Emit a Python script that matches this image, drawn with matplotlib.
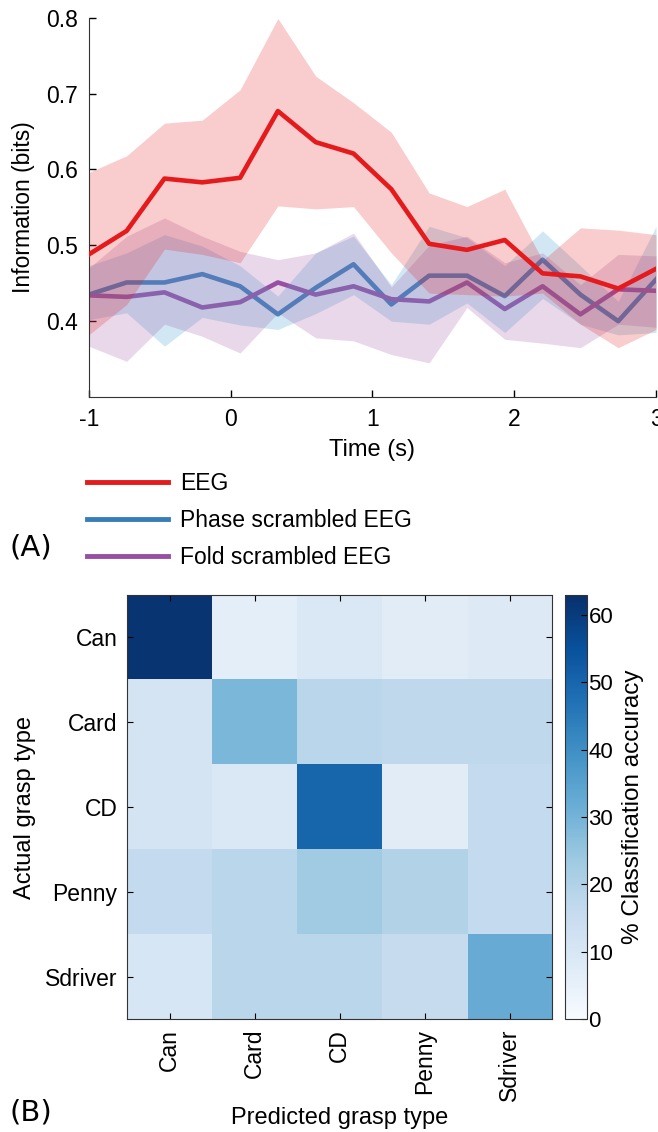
import numpy as np
import matplotlib
matplotlib.use("Agg")
import matplotlib.pyplot as plt
from matplotlib.lines import Line2D

plt.rcParams['font.family'] = ['Liberation Sans', 'DejaVu Sans']

# ---- panel A data ----
time = np.linspace(-1, 3, 16)

eeg = [0.488, 0.519, 0.588, 0.583, 0.589, 0.677, 0.636, 0.621,
       0.574, 0.502, 0.494, 0.507, 0.463, 0.459, 0.443, 0.469]
eeg_hi = [0.596, 0.618, 0.661, 0.665, 0.705, 0.799, 0.723, 0.688,
          0.649, 0.569, 0.551, 0.574, 0.480, 0.523, 0.520, 0.514]
eeg_lo = [0.382, 0.422, 0.495, 0.488, 0.477, 0.552, 0.548, 0.551,
          0.490, 0.437, 0.435, 0.433, 0.437, 0.396, 0.365, 0.389]

phase = [0.435, 0.451, 0.451, 0.462, 0.446, 0.409, 0.444, 0.475,
         0.422, 0.460, 0.460, 0.433, 0.481, 0.435, 0.400, 0.455]
phase_hi = [0.473, 0.490, 0.514, 0.499, 0.473, 0.433, 0.490, 0.512,
            0.448, 0.525, 0.510, 0.473, 0.519, 0.473, 0.426, 0.525]
phase_lo = [0.402, 0.411, 0.367, 0.405, 0.395, 0.389, 0.410, 0.435,
            0.400, 0.396, 0.424, 0.385, 0.430, 0.396, 0.382, 0.385]

fold = [0.434, 0.432, 0.438, 0.418, 0.425, 0.451, 0.435, 0.446,
        0.429, 0.426, 0.451, 0.416, 0.446, 0.409, 0.442, 0.440]
fold_hi = [0.470, 0.512, 0.536, 0.512, 0.492, 0.481, 0.490, 0.516,
           0.445, 0.500, 0.512, 0.477, 0.490, 0.448, 0.488, 0.486]
fold_lo = [0.367, 0.347, 0.396, 0.380, 0.358, 0.411, 0.378, 0.374,
           0.356, 0.345, 0.418, 0.376, 0.371, 0.365, 0.396, 0.392]

# ---- panel B data ----
grasps = ["Can", "Card", "CD", "Penny", "Sdriver"]
conf = np.array([
    [62, 6, 9, 7, 8],
    [11, 29, 18, 17, 17],
    [11, 9, 50, 7, 16],
    [16, 18, 23, 19.5, 16],
    [10, 18, 18, 15.5, 32],
])

red = "#e41a1c"
blue = "#377eb8"
purple = "#984ea3"

fig = plt.figure(figsize=(6.58, 11.32), dpi=100)

# ---------- (A) ----------
ax = fig.add_axes([0.135, 0.6493, 0.862, 0.335])
ax.plot(time, phase, color=blue, lw=3.3, zorder=1)
ax.plot(time, fold, color=purple, lw=3.3, zorder=1)
ax.fill_between(time, phase_lo, phase_hi, color="#5aa9d6", alpha=0.28, lw=0, zorder=2)
ax.fill_between(time, fold_lo, fold_hi, color=purple, alpha=0.22, lw=0, zorder=2)
ax.fill_between(time, eeg_lo, eeg_hi, color=red, alpha=0.22, lw=0, zorder=2)
ax.plot(time, eeg, color=red, lw=3.3, zorder=3)

ax.set_xlim(-1, 3)
ax.set_ylim(0.3, 0.8)
ax.set_xticks([-1, 0, 1, 2, 3])
ax.set_xticklabels(["-1", "0", "1", "2", "3"])
ax.set_yticks([0.4, 0.5, 0.6, 0.7, 0.8])
ax.tick_params(direction="in", labelsize=16.5, length=5, width=1, pad=8)
for s in ["top", "right"]:
    ax.spines[s].set_visible(False)
ax.spines["left"].set_color("#333333")
ax.spines["bottom"].set_color("#333333")
ax.set_xlabel("Time (s)", fontsize=17, labelpad=6)
ax.set_ylabel("Information (bits)", fontsize=16.5, labelpad=8)

handles = [Line2D([], [], color=red, lw=3.5),
           Line2D([], [], color=blue, lw=3.5),
           Line2D([], [], color=purple, lw=3.5)]
fig.legend(handles, ["EEG", "Phase scrambled EEG", "Fold scrambled EEG"],
           loc="upper left", bbox_to_anchor=(0.132, 0.583), frameon=False,
           fontsize=16.5, handlelength=3.54, handletextpad=0.52, labelspacing=0.62,
           borderaxespad=0, borderpad=0)

fig.text(0.015, 0.516, "(A)", fontsize=21, family="DejaVu Sans", va="center")

# ---------- (B) ----------
axh = fig.add_axes([0.193, 0.0998, 0.646, 0.3746])
im = axh.imshow(conf, cmap="Blues", vmin=0, vmax=63, aspect="auto")
axh.set_xticks(range(5))
axh.set_xticklabels(grasps, rotation=90, fontsize=16.5)
axh.set_yticks(range(5))
axh.set_yticklabels(grasps, fontsize=16.5)
axh.tick_params(direction="in", length=4, top=True, right=True, pad=7)
axh.set_xlabel("Predicted grasp type", fontsize=17, labelpad=4)
axh.set_ylabel("Actual grasp type", fontsize=17, labelpad=6)
for s in axh.spines.values():
    s.set_color("#333333")

cax = fig.add_axes([0.8587, 0.0998, 0.0334, 0.3746])
cb = fig.colorbar(im, cax=cax, ticks=[0, 10, 20, 30, 40, 50, 60])
cb.ax.tick_params(direction="in", labelsize=16, length=4, pad=1)
cb.outline.set_edgecolor("#333333")
cb.set_label("% Classification accuracy", fontsize=17.5, labelpad=6)

fig.text(0.015, 0.0168, "(B)", fontsize=21, family="DejaVu Sans", va="center")

fig.savefig("out.png", dpi=100)
